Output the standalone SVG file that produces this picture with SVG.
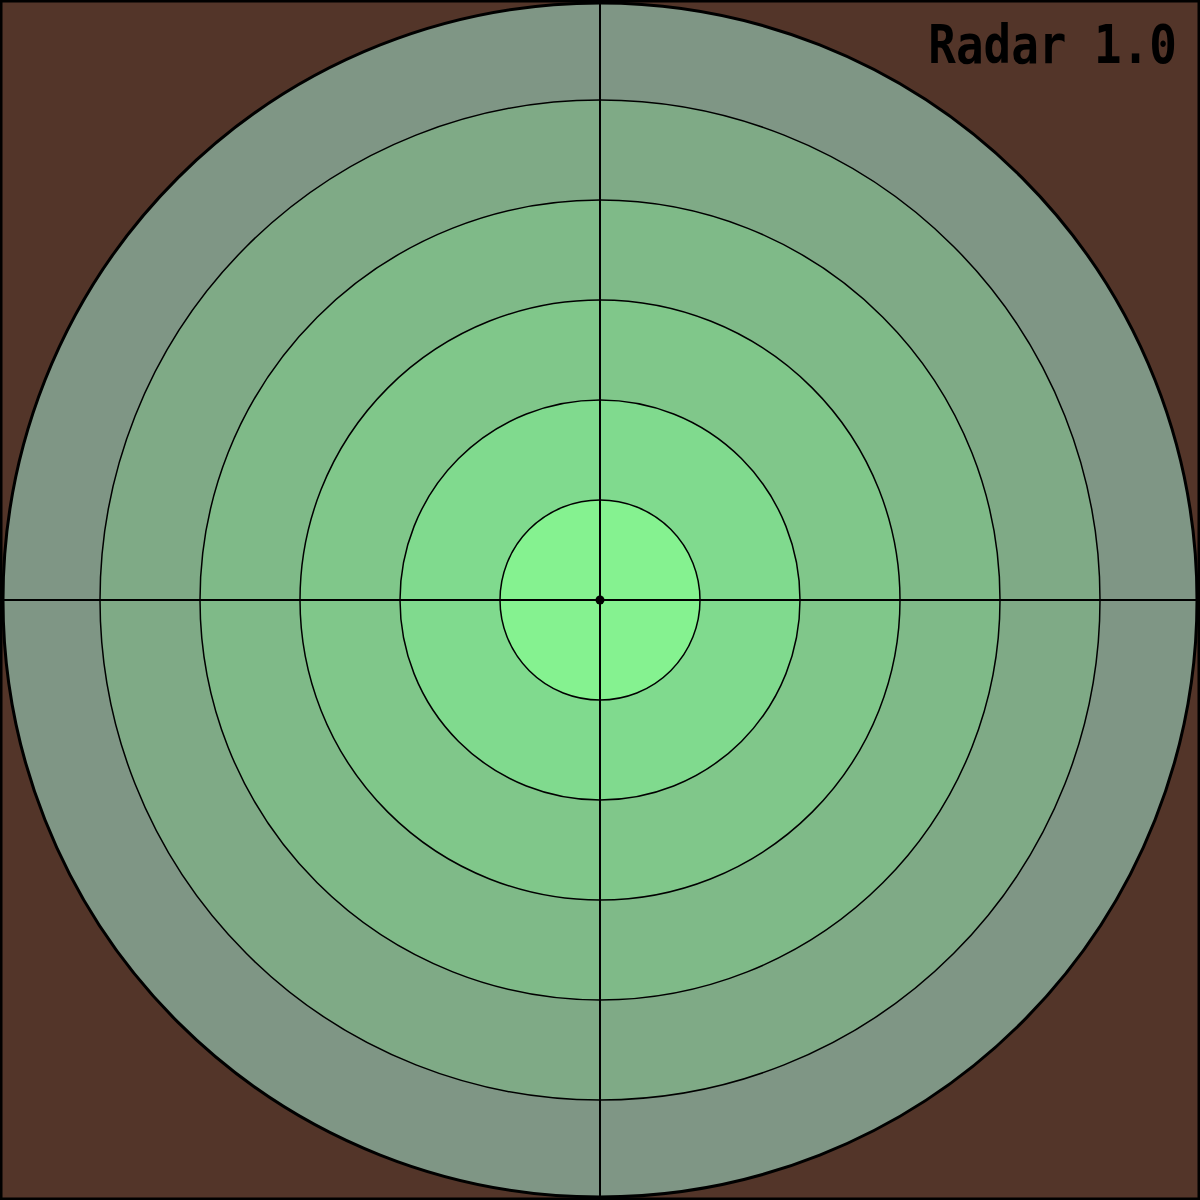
<svg xmlns="http://www.w3.org/2000/svg" width="1200" height="1200" viewBox="0 0 1200 1200">
<style>
.ring{stroke:#000;stroke-width:1.5}
.axis{stroke:#000;stroke-width:2}
.title{font-family:"DejaVu Sans Mono","Liberation Mono",monospace;font-weight:bold;font-size:54px;fill:#000}
</style>
<rect id="background" x="1" y="1" width="1198" height="1198" fill="#533529" stroke="#000" stroke-width="3"/>
<g id="rings">
<circle id="ring6" cx="600" cy="600" r="597" fill="#7F9685" stroke="#000" stroke-width="3"/>
<circle id="ring5" class="ring" cx="600" cy="600" r="500" fill="#7FAA86"/>
<circle id="ring4" class="ring" cx="600" cy="600" r="400" fill="#7FBA88"/>
<circle id="ring3" class="ring" cx="600" cy="600" r="300" fill="#80C78A"/>
<circle id="ring2" class="ring" cx="600" cy="600" r="200" fill="#80DA8E"/>
<circle id="ring1" class="ring" cx="600" cy="600" r="100" fill="#85F290"/>
</g>
<g id="axes">
<line class="axis" x1="3" y1="600" x2="1197" y2="600"/>
<line class="axis" x1="600" y1="3" x2="600" y2="1197"/>
</g>
<circle id="center" cx="600" cy="600" r="4.5" fill="#000"/>
<text id="title" class="title" transform="translate(1177,63) scale(0.85,1)" x="0" y="0" text-anchor="end">Radar 1.0</text>
</svg>
